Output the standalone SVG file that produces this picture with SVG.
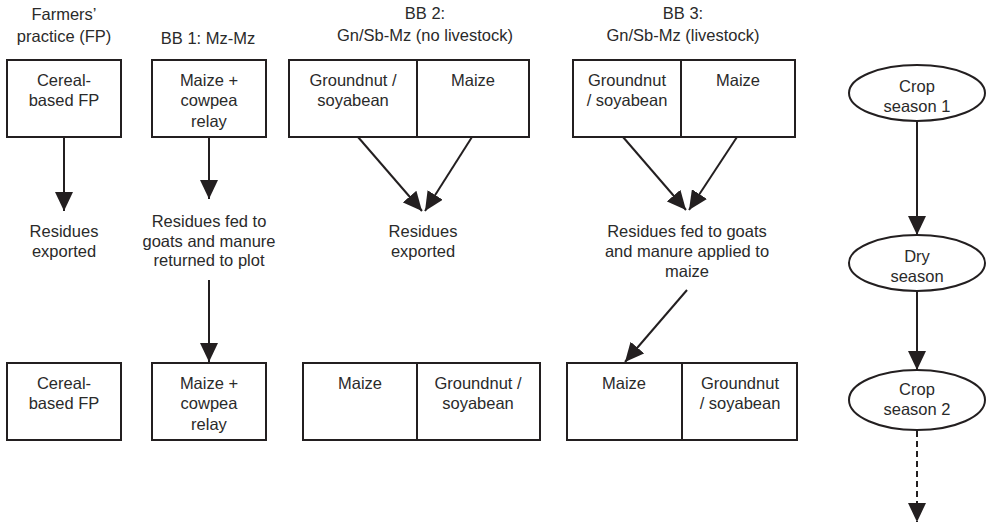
<svg xmlns="http://www.w3.org/2000/svg" width="987" height="524" viewBox="0 0 987 524">
<style>
  .box { fill: #fff; stroke: #231f20; stroke-width: 2; }
  .div { stroke: #231f20; stroke-width: 2; }
  .t { font-family: "Liberation Sans", Arial, sans-serif; font-size: 16.5px; fill: #2a2a2a; text-anchor: middle; }
  .c { stroke: #231f20; stroke-width: 2; fill: none; }
  .dash { stroke-dasharray: 6 4; }
</style>
<defs>
  <marker id="ah" markerUnits="userSpaceOnUse" markerWidth="19" markerHeight="18" refX="19" refY="9" orient="auto">
    <path d="M0,0 L19,9 L0,18 z" fill="#231f20"/>
  </marker>
</defs>
<rect width="987" height="524" fill="#fff"/>

<g id="headers">
  <text class="t" x="64" y="20">Farmers’</text>
  <text class="t" x="64" y="42">practice (FP)</text>
  <text class="t" x="208" y="44">BB 1: Mz-Mz</text>
  <text class="t" x="425" y="19">BB 2:</text>
  <text class="t" x="425" y="41">Gn/Sb-Mz (no livestock)</text>
  <text class="t" x="683" y="19">BB 3:</text>
  <text class="t" x="683" y="41">Gn/Sb-Mz (livestock)</text>
</g>

<g id="fp-top">
  <rect class="box" x="7" y="60" width="114" height="77"/>
  <text class="t" x="64" y="86">Cereal-</text>
  <text class="t" x="64" y="106">based FP</text>
</g>
<g id="bb1-top">
  <rect class="box" x="152" y="60" width="114" height="77"/>
  <text class="t" x="209" y="86">Maize +</text>
  <text class="t" x="209" y="106">cowpea</text>
  <text class="t" x="209" y="127">relay</text>
</g>
<g id="bb2-top">
  <rect class="box" x="289" y="60" width="240" height="77"/>
  <line class="div" x1="417" y1="60" x2="417" y2="137"/>
  <text class="t" x="353" y="86">Groundnut /</text>
  <text class="t" x="353" y="106">soyabean</text>
  <text class="t" x="473" y="86">Maize</text>
</g>
<g id="bb3-top">
  <rect class="box" x="573" y="60" width="222" height="77"/>
  <line class="div" x1="681" y1="60" x2="681" y2="137"/>
  <text class="t" x="627" y="86">Groundnut</text>
  <text class="t" x="627" y="106">/ soyabean</text>
  <text class="t" x="738" y="86">Maize</text>
</g>

<g id="fp-mid">
  <text class="t" x="64" y="237">Residues</text>
  <text class="t" x="64" y="257">exported</text>
</g>
<g id="bb1-mid">
  <text class="t" x="209" y="227">Residues fed to</text>
  <text class="t" x="209" y="247">goats and manure</text>
  <text class="t" x="209" y="266">returned to plot</text>
</g>
<g id="bb2-mid">
  <text class="t" x="423" y="237">Residues</text>
  <text class="t" x="423" y="257">exported</text>
</g>
<g id="bb3-mid">
  <text class="t" x="687" y="237">Residues fed to goats</text>
  <text class="t" x="687" y="257">and manure applied to</text>
  <text class="t" x="687" y="277">maize</text>
</g>

<g id="fp-bottom">
  <rect class="box" x="7" y="363" width="114" height="77"/>
  <text class="t" x="64" y="389">Cereal-</text>
  <text class="t" x="64" y="409">based FP</text>
</g>
<g id="bb1-bottom">
  <rect class="box" x="152" y="363" width="114" height="77"/>
  <text class="t" x="209" y="389">Maize +</text>
  <text class="t" x="209" y="409">cowpea</text>
  <text class="t" x="209" y="430">relay</text>
</g>
<g id="bb2-bottom">
  <rect class="box" x="303" y="363" width="237" height="77"/>
  <line class="div" x1="417" y1="363" x2="417" y2="440"/>
  <text class="t" x="360" y="389">Maize</text>
  <text class="t" x="478" y="389">Groundnut /</text>
  <text class="t" x="478" y="409">soyabean</text>
</g>
<g id="bb3-bottom">
  <rect class="box" x="567" y="363" width="230" height="77"/>
  <line class="div" x1="682" y1="363" x2="682" y2="440"/>
  <text class="t" x="624" y="389">Maize</text>
  <text class="t" x="740" y="389">Groundnut</text>
  <text class="t" x="740" y="409">/ soyabean</text>
</g>

<g id="crop-season-1">
  <ellipse class="box" cx="917" cy="93" rx="68" ry="28"/>
  <text class="t" x="917" y="92">Crop</text>
  <text class="t" x="917" y="112">season 1</text>
</g>
<g id="dry-season">
  <ellipse class="box" cx="917" cy="263" rx="68" ry="28"/>
  <text class="t" x="917" y="262">Dry</text>
  <text class="t" x="917" y="282">season</text>
</g>
<g id="crop-season-2">
  <ellipse class="box" cx="917" cy="400" rx="68" ry="30"/>
  <text class="t" x="917" y="395">Crop</text>
  <text class="t" x="917" y="415">season 2</text>
</g>

<g id="connectors">
  <line class="c" x1="64" y1="137" x2="64" y2="211" marker-end="url(#ah)"/>
  <line class="c" x1="209" y1="137" x2="209" y2="199" marker-end="url(#ah)"/>
  <line class="c" x1="209" y1="280" x2="209" y2="362" marker-end="url(#ah)"/>
  <line class="c" x1="358" y1="137" x2="422" y2="211" marker-end="url(#ah)"/>
  <line class="c" x1="472" y1="137" x2="425" y2="211" marker-end="url(#ah)"/>
  <line class="c" x1="623" y1="137" x2="686" y2="210" marker-end="url(#ah)"/>
  <line class="c" x1="737" y1="137" x2="689" y2="210" marker-end="url(#ah)"/>
  <line class="c" x1="687" y1="290" x2="625" y2="362" marker-end="url(#ah)"/>
  <line class="c" x1="917" y1="121" x2="917" y2="235" marker-end="url(#ah)"/>
  <line class="c" x1="917" y1="291" x2="917" y2="370" marker-end="url(#ah)"/>
  <line class="c dash" x1="917" y1="431" x2="917" y2="522" marker-end="url(#ah)"/>
</g>
</svg>
